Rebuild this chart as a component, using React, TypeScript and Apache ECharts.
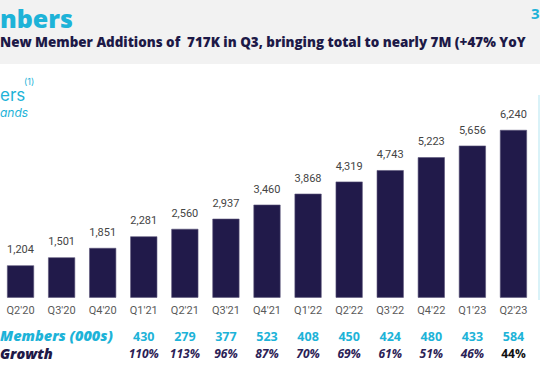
import React, { useEffect, useRef } from "react";
import * as echarts from "echarts";

const categories = ["Q2'20", "Q3'20", "Q4'20", "Q1'21", "Q2'21", "Q3'21", "Q4'21", "Q1'22", "Q2'22", "Q3'22", "Q4'22", "Q1'23", "Q2'23"];
const totalMembers = [1204, 1501, 1851, 2281, 2560, 2937, 3460, 3868, 4319, 4743, 5223, 5656, 6240];
const netNewMembers = ["", "", "", "430", "279", "377", "523", "408", "450", "424", "480", "433", "584"];
const yoyGrowth = ["", "", "", "110%", "113%", "96%", "87%", "70%", "69%", "61%", "51%", "46%", "44%"];

const NAVY = "#211a4a";
const CYAN = "#1db3d8";
const FONT = "Inter, 'Open Sans', sans-serif";
const WIDE = "'Open Sans', sans-serif";

export default function App() {
  const ref = useRef<HTMLDivElement>(null);
  useEffect(() => {
    if (!ref.current) return;
    const chart = echarts.init(ref.current, null, { renderer: "svg" });
    const lastIdx = categories.length - 1;
    chart.setOption({
      animation: false,
      backgroundColor: "#ffffff",
      grid: { left: -2, right: 6, top: 109.5, bottom: 72.3 },
      xAxis: [
        {
          type: "category",
          data: categories,
          axisLine: { show: false },
          axisTick: { show: false },
          axisLabel: { color: "#5a5a5a", fontSize: 11, fontFamily: "Roboto, sans-serif", margin: 7, interval: 0 },
        },
        {
          type: "category",
          data: netNewMembers,
          position: "bottom",
          offset: 25,
          axisLine: { show: false },
          axisTick: { show: false },
          axisLabel: { color: CYAN, fontSize: 12.5, fontWeight: "bold", fontFamily: WIDE, margin: 7, interval: 0 },
        },
        {
          type: "category",
          data: yoyGrowth,
          position: "bottom",
          offset: 43,
          axisLine: { show: false },
          axisTick: { show: false },
          axisLabel: {
            interval: 0,
            margin: 7,
            formatter: (v: string, i: number) => (i === lastIdx ? `{last|${v}}` : `{g|${v}}`),
            rich: {
              g: { color: "#2b2156", fontSize: 12, fontWeight: "bold", fontStyle: "italic", fontFamily: WIDE },
              last: { color: "#111111", fontSize: 12, fontWeight: "bold", fontFamily: WIDE },
            },
          },
        },
      ],
      yAxis: { type: "value", min: 0, max: 7000, show: false, splitLine: { show: false } },
      series: [
        {
          type: "bar",
          xAxisIndex: 0,
          data: totalMembers,
          barWidth: 27,
          itemStyle: { color: NAVY, borderColor: "#5a5478", borderWidth: 0.6 },
          label: {
            show: true,
            position: "top",
            distance: 10,
            color: "#444444",
            fontSize: 11,
            fontFamily: "Roboto, sans-serif",
            formatter: (p: any) => Number(p.value).toLocaleString("en-US"),
          },
        },
      ],
      graphic: [
        { type: "rect", left: 0, top: 0, shape: { width: 540, height: 64 }, style: { fill: "#f2f2f2" }, z: -1 },
        { type: "text", left: 0, top: 5, style: { text: "nbers", fill: CYAN, font: `800 25px ${WIDE}` } },
        { type: "text", left: 531, top: 5, style: { text: "3", fill: CYAN, font: `bold 15px ${WIDE}` } },
        {
          type: "text",
          left: 0,
          top: 35,
          style: { text: "New Member Additions of  717K in Q3, bringing total to nearly 7M (+47% YoY", fill: "#1d1947", font: `800 13.4px ${WIDE}` },
        },
        { type: "text", left: 0, top: 86, style: { text: "ers", fill: CYAN, font: `17px ${FONT}`, lineHeight: 17 } },
        { type: "text", left: 24, top: 77, style: { text: "(1)", fill: CYAN, font: `9px ${FONT}`, lineHeight: 8 } },
        { type: "text", left: 0, top: 106, style: { text: "ands", fill: CYAN, font: `italic 12px ${FONT}`, lineHeight: 12 } },
        { type: "line", shape: { x1: 539, y1: 95, x2: 539, y2: 300 }, style: { stroke: "#cdeef6", lineWidth: 1.5 } },
        { type: "text", left: 0, top: 327, style: { text: "Members (000s)", fill: CYAN, font: `italic 800 14.5px ${WIDE}`, lineHeight: 16 } },
        { type: "text", left: 0, top: 345, style: { text: "Growth", fill: "#1f1947", font: `italic 800 14.5px ${WIDE}`, lineHeight: 16 } },
      ],
    });
    return () => chart.dispose();
  }, []);
  return <div ref={ref} style={{ width: 540, height: 370, position: "absolute", left: 0, top: 0 }} />;
}
